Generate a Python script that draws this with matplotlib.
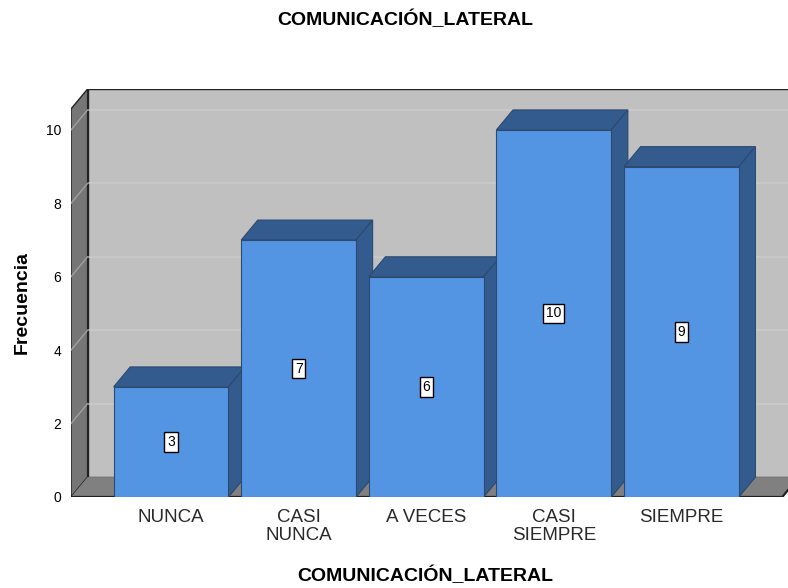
import matplotlib.pyplot as plt
from matplotlib.patches import Polygon

plt.rcParams['font.family'] = ['Liberation Sans', 'DejaVu Sans']

categorias = ['NUNCA', 'CASI\nNUNCA', 'A VECES', 'CASI\nSIEMPRE', 'SIEMPRE']
frecuencias = [3, 7, 6, 10, 9]
y_ticks = [0, 2, 4, 6, 8, 10]

# colores estilo SPSS
c_frente = '#5495e3'
c_lado = '#335b8d'
c_fondo = '#c0c0c0'
c_pared = '#767676'
c_piso = '#808080'
c_grid = '#cbcbcb'

W, H = 788, 588
fig = plt.figure(figsize=(W / 100, H / 100), dpi=100)
# eje en pixeles: x 71..788, y 89..497 (desde arriba)
ax = fig.add_axes([71 / W, (H - 497) / H, (788 - 71) / W, (497 - 89) / H])

x0, x1 = -0.784, 4.79   # plano frontal
ymax = 10.57
dx, dy = 0.13, 0.543     # profundidad
ax.set_xlim(x0, 4.835)
ax.set_ylim(0, ymax + dy)

# pared del fondo
ax.add_patch(Polygon([(x0 + dx, dy), (x1 + dx + 0.2, dy), (x1 + dx + 0.2, ymax + dy), (x0 + dx, ymax + dy)],
                     closed=True, facecolor=c_fondo, edgecolor='#222222', lw=1, zorder=0))
for t in y_ticks[1:]:
    ax.plot([x0 + dx, x1 + dx + 0.2], [t + dy, t + dy], color=c_grid, lw=1.1, zorder=0.5)

# pared izquierda
ax.add_patch(Polygon([(x0, 0), (x0 + dx, dy), (x0 + dx, ymax + dy), (x0, ymax)],
                     closed=True, facecolor=c_pared, edgecolor='#222222', lw=1, zorder=1))
for t in y_ticks[1:]:
    ax.plot([x0, x0 + dx], [t, t + dy], color='#a0a0a0', lw=1, zorder=1.2)

# piso
ax.add_patch(Polygon([(x0, 0), (x1, 0), (x1 + dx, dy), (x0 + dx, dy)],
                     closed=True, facecolor=c_piso, edgecolor='none', zorder=1))
ax.plot([x0, x1], [0, 0], color='#222222', lw=1.6, zorder=1.5)
ax.plot([x1, x1 + dx], [0, dy], color='#222222', lw=1.6, zorder=1.5)

ancho = 0.9
pos = list(range(len(categorias)))
barras = ax.bar(pos, frecuencias, width=ancho, color=c_frente, edgecolor='#2c4a70', lw=0.8)
for i, (b, v) in enumerate(zip(barras, frecuencias)):
    l, r = i - ancho / 2, i + ancho / 2
    z = 2 + i
    ax.add_patch(Polygon([(l, v), (r, v), (r + dx, v + dy), (l + dx, v + dy)], closed=True,
                         facecolor=c_lado, edgecolor='#2c4a70', lw=0.8, zorder=z))
    ax.add_patch(Polygon([(r, 0), (r + dx, dy), (r + dx, v + dy), (r, v)], closed=True,
                         facecolor=c_lado, edgecolor='#2c4a70', lw=0.8, zorder=z))
    b.set_zorder(z + 0.5)
    ax.text(i, v / 2, str(v), ha='center', va='center', fontsize=10, zorder=z + 0.6,
            bbox=dict(boxstyle='square,pad=0.2', facecolor='white', edgecolor='black', lw=1))

ax.set_yticks(y_ticks)
ax.set_xticks(pos)
ax.set_xticklabels(categorias, fontsize=13.5, color='#2a2a2a', linespacing=1.05)
ax.tick_params(axis='x', length=0, pad=9)
ax.tick_params(axis='y', length=0, pad=7, labelsize=10)
for s in ax.spines.values():
    s.set_visible(False)

fig.text(405 / W, 1 - 20 / H, 'COMUNICACIÓN_LATERAL', ha='center', va='center', fontsize=14, fontweight='bold')
fig.text(425 / W, 1 - 576 / H, 'COMUNICACIÓN_LATERAL', ha='center', va='center', fontsize=14, fontweight='bold')
fig.text(22 / W, 1 - 303 / H, 'Frecuencia', ha='center', va='center', rotation=90, fontsize=14, fontweight='bold')

fig.savefig('out.png', dpi=100)
